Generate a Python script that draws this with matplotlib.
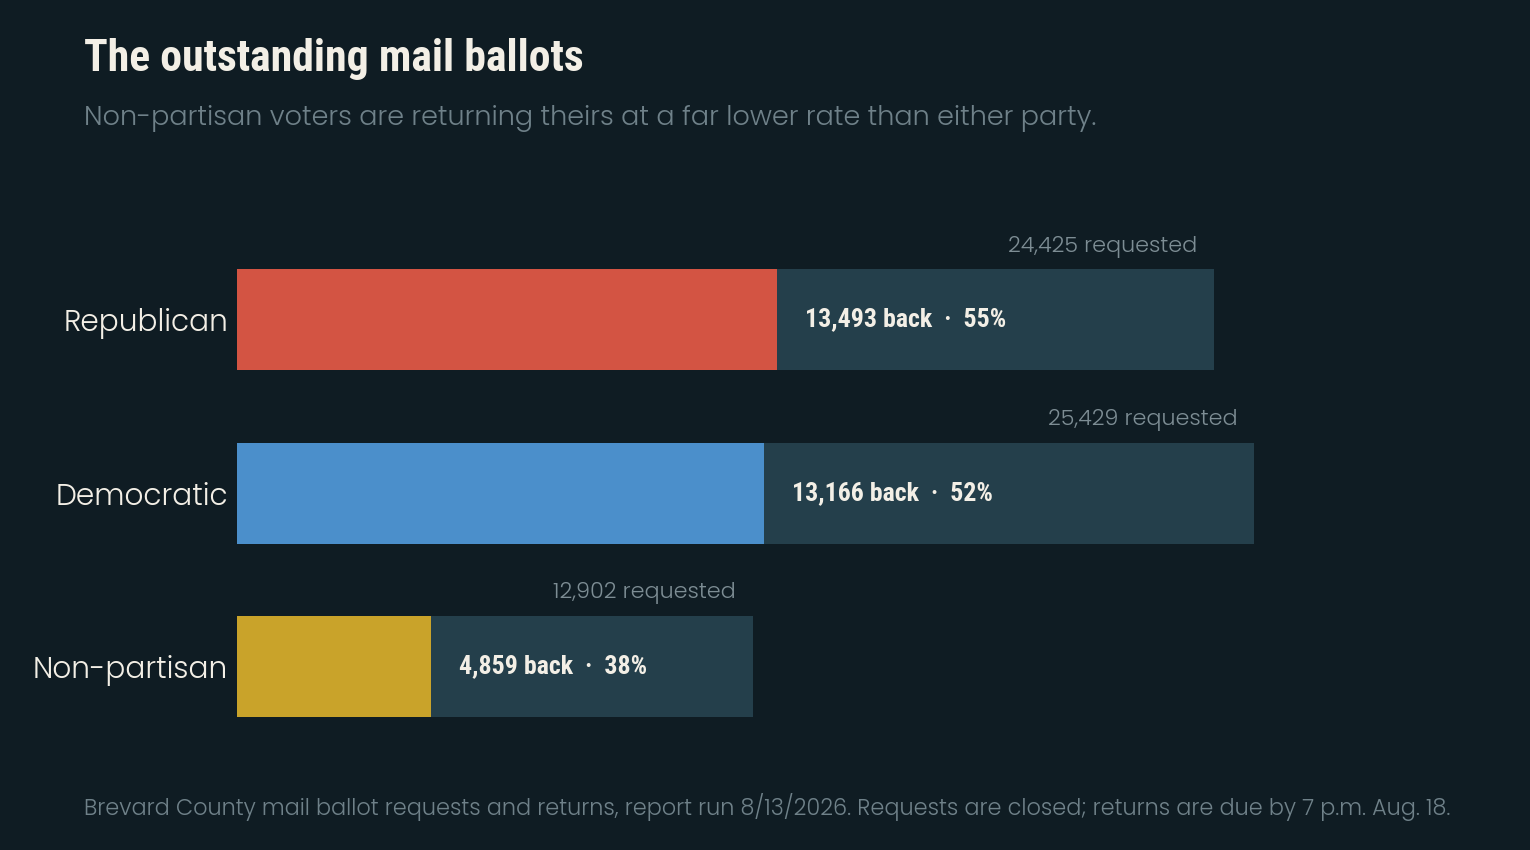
import matplotlib
matplotlib.use("Agg")
import matplotlib.pyplot as plt

categories = ["Republican", "Democratic", "Non-partisan"]
requested = [24425, 25429, 12902]
returned = [13493, 13166, 4859]
pct_back = [55, 52, 38]
party_colors = ["#d35443", "#4b8fcb", "#c9a32a"]

title = "The outstanding mail ballots"
subtitle = "Non-partisan voters are returning theirs at a far lower rate than either party."
footer = ("Brevard County mail ballot requests and returns, report run 8/13/2026. "
          "Requests are closed; returns are due by 7 p.m. Aug. 18.")

BG = "#0f1c23"
REST = "#243f4b"
CREAM = "#f3efe6"
GREY = "#6f8189"

narrow = ["Roboto Condensed", "DejaVu Sans"]
light = ["Poppins", "DejaVu Sans"]

W, H = 1530, 850
fig = plt.figure(figsize=(W / 100, H / 100), dpi=100, facecolor=BG)

# axes: left edge at x=237px, 0.04 px per ballot
ax_left = 237
ax_w = 1280
xmax = ax_w / 0.04
row = 173.5
top_px = 319.5 - row / 2
ax_h = row * 3
ax = fig.add_axes([ax_left / W, 1 - (top_px + ax_h) / H, ax_w / W, ax_h / H])
ax.set_facecolor(BG)
ax.set_xlim(0, xmax)
ax.set_ylim(2.5, -0.5)
bar_h = 101 / row

ys = list(range(len(categories)))
ax.barh(ys, requested, height=bar_h, color=REST, linewidth=0)
ax.barh(ys, returned, height=bar_h, color=party_colors, linewidth=0)

for s in ax.spines.values():
    s.set_visible(False)
ax.set_xticks([])
ax.set_yticks(ys)
ax.set_yticklabels(categories, family=light, fontsize=21.3, color=CREAM, fontweight=300)
ax.tick_params(axis="y", length=0, pad=6.3)

pt = 0.72  # points per pixel
for i in ys:
    ax.annotate(f"{requested[i]:,} requested", xy=(requested[i], i - bar_h / 2),
                xytext=(-17 * pt, 22.5 * pt), textcoords="offset points",
                ha="right", va="center", family=light, fontweight=300,
                fontsize=16, color="#7d8d94")
    ax.annotate(f"{returned[i]:,} back  \u00b7  {pct_back[i]}%", xy=(returned[i], i),
                xytext=(28 * pt, 0), textcoords="offset points",
                ha="left", va="center", family=narrow, fontweight="bold",
                fontsize=18.6, color=CREAM)

fig.text(84 / W, 1 - 59 / H, title, family=narrow, fontweight="bold", fontsize=31.5,
         color=CREAM, ha="left", va="center")
fig.text(84 / W, 1 - 118 / H, subtitle, family=light, fontweight=300, fontsize=19.5,
         color=GREY, ha="left", va="center")
fig.text(84 / W, 1 - 807 / H, footer, family=light, fontweight=300, fontsize=16.08,
         color=GREY, ha="left", va="center")

fig.savefig("out.png", dpi=100, facecolor=BG)
